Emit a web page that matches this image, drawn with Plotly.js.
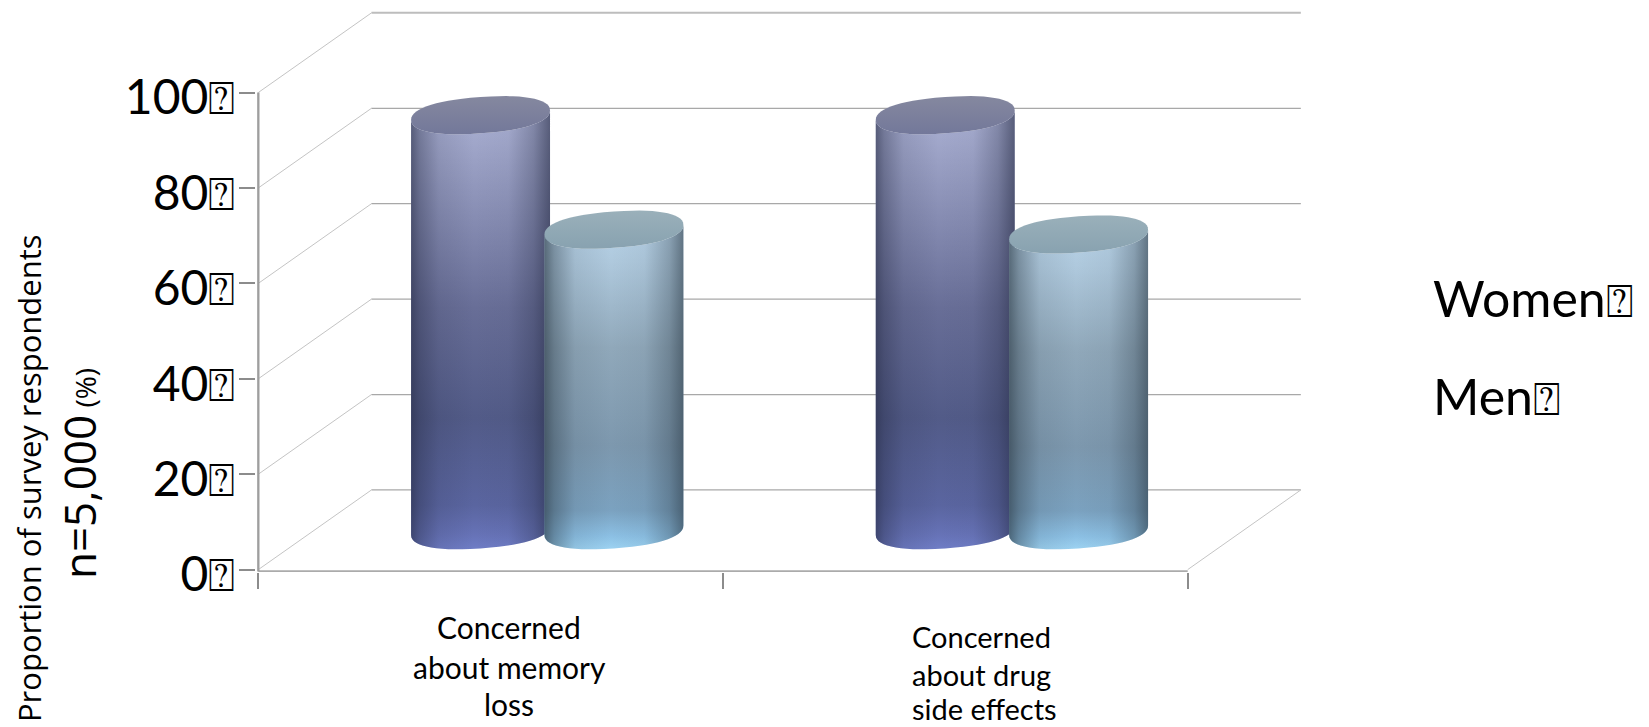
<!DOCTYPE html>
<html>
<head>
<meta charset="utf-8">
<script src="https://cdn.plot.ly/plotly-3.0.1.min.js"></script>
<style>html,body{margin:0;padding:0;background:#fff}#chart{width:1649px;height:727px}</style>
</head>
<body>
<div id="chart"></div>
<script>
// Survey results
const seriesNames = ['Women', 'Men'];
const womenValues = [87, 87];
const menValues = [63, 62];
const yTicks = [0, 20, 40, 60, 80, 100];
const yTickNumbers = ['0', '20', '40', '60', '80', '100'];
const categoryLines = [
  ['Concerned', 'about memory', 'loss'],
  ['Concerned', 'about drug', 'side effects']
];
const boxMark = '⍰';

// Oblique projection of the chart box, in axis units
const depthX = 0.2435, depthY = 16.7;
const left = -0.5, right = 1.5;
const midDepth = 0.5;
const radius = 0.1495, capHalf = 3.8, capTilt = 1.0;
const groupOffset = 0.1435;

const womenBody = [[0,'#6f7dc6'],[0.035,'#6672b6'],[0.1,'#5a65a0'],[0.3,'#525b88'],[0.55,'#686e97'],[0.82,'#9096bb'],[0.96,'#a5abce'],[1,'#a5abce']];
const menBody = [[0,'#9dd3f2'],[0.04,'#8cc0e4'],[0.12,'#7ba2c0'],[0.32,'#7d98ae'],[0.62,'#90a8ba'],[0.88,'#aec8dc'],[1,'#b8d3e8']];
const womenEdge = [[0,'rgba(35,40,65,0.6)'],[0.06,'rgba(35,40,65,0.38)'],[0.2,'rgba(35,40,65,0.12)'],[0.45,'rgba(35,40,65,0)'],[0.7,'rgba(35,40,65,0.03)'],[0.88,'rgba(35,40,65,0.28)'],[1,'rgba(35,40,65,0.6)']];
const menEdge = [[0,'rgba(45,60,72,0.68)'],[0.07,'rgba(45,60,72,0.42)'],[0.22,'rgba(45,60,72,0.1)'],[0.48,'rgba(45,60,72,0)'],[0.72,'rgba(45,60,72,0.05)'],[0.9,'rgba(45,60,72,0.32)'],[1,'rgba(45,60,72,0.62)']];
const womenCap = [[0,'#73789a'],[1,'#85889f']];
const menCap = [[0,'#88a2b0'],[1,'#9ab0ba']];

const traces = [];

function line(x, y, color, width) {
  traces.push({type:'scatter', mode:'lines', x, y, line:{color, width}, hoverinfo:'skip', showlegend:false, cliponaxis:false});
}

// Back wall gridlines and left wall diagonals
yTicks.forEach(v => {
  line([left, left + depthX], [v, v + depthY], '#c4c4c4', 1);
  line([left + depthX, right + depthX], [v + depthY, v + depthY], v === 100 ? '#bdbdbd' : '#a8a8a8', v === 100 ? 2 : 1.2);
});
// Floor edge on the right and the front floor line
line([right, right + depthX], [0, depthY], '#c4c4c4', 1);
line([left, right], [-0.4, -0.4], '#ababab', 2.5);

// Front vertical axis, stopping at the top tick
const axisShapes = [{type:'rect', layer:'above', xref:'x', yref:'y', x0:left - 0.0025, x1:left + 0.0025, y0:-0.4, y1:100, fillcolor:'#9e9e9e', line:{width:0}}];

// Slightly squared ellipse, so the cylinder ends read blunt at the sides
function ellipsePoint(cx, cy, deg) {
  const a = deg * Math.PI / 180;
  const c = Math.cos(a), s = Math.sin(a);
  const sc = Math.sign(c) * Math.pow(Math.abs(c), 0.85);
  const ss = Math.sign(s) * Math.pow(Math.abs(s), 0.9);
  return [cx + radius * sc, cy + capHalf * ss + capTilt * sc];
}

function cylinder(name, cat, offset, value, body, edge, cap) {
  const cx = cat + offset + midDepth * depthX;
  const base = midDepth * 16.5;
  const top = base + value;
  const bx = [], by = [], tx = [], ty = [];
  // Lower arc of the base, then lower arc of the top going back
  for (let d = 180; d <= 360; d += 6) { const p = ellipsePoint(cx, base, d); bx.push(p[0]); by.push(p[1]); }
  for (let d = 360; d >= 180; d -= 6) { const p = ellipsePoint(cx, top, d); bx.push(p[0]); by.push(p[1]); }
  bx.push(bx[0]); by.push(by[0]);
  for (let d = 0; d <= 360; d += 6) { const p = ellipsePoint(cx, top, d); tx.push(p[0]); ty.push(p[1]); }
  const shared = {type:'scatter', mode:'none', fill:'toself', name, showlegend:false, hoverinfo:'skip'};
  traces.push({...shared, x:bx, y:by, fillgradient:{type:'vertical', colorscale:body}});
  traces.push({...shared, x:bx, y:by, fillgradient:{type:'horizontal', colorscale:edge}});
  traces.push({...shared, x:tx, y:ty, fillgradient:{type:'vertical', colorscale:cap}});
}

womenValues.forEach((v, i) => {
  cylinder(seriesNames[0], i, -groupOffset, v, womenBody, womenEdge, womenCap);
  cylinder(seriesNames[1], i, groupOffset, menValues[i], menBody, menEdge, menCap);
});

const textFont = 'Lato, Carlito, sans-serif';
const plotLeft = 255.7, plotWidth = 1046.3, plotBottom = 572.4, plotHeight = 562.4;
const annotations = [];
function label(text, xPx, yPx, size, opts) {
  annotations.push(Object.assign({
    text, xref:'paper', yref:'paper', showarrow:false,
    x:(xPx - plotLeft) / plotWidth, y:(plotBottom - yPx) / plotHeight,
    xanchor:'center', yanchor:'middle',
    font:{family:textFont, size, color:'#000'}
  }, opts || {}));
}
const boxed = (t, size) => t + '<span style="font-size:' + size + 'px">' + boxMark + '</span>';

// Category labels, one line at a time
const catCentres = [[509, 509, 509], [981, 981, 984]];
const catRows = [[627, 667, 704], [637, 675, 709]];
const catSizes = [30, 29];
categoryLines.forEach((rows, c) => rows.forEach((t, r) => label(t, catCentres[c][r], catRows[c][r], catSizes[c])));

// Vertical axis captions
label('Proportion of survey respondents', 28, 478, 32, {textangle:-90, font:{family:'"Open Sans", sans-serif', size:31, color:'#000'}});
label('n=5,000<span style="font-size:28px"> (%)</span>', 78, 474, 44, {textangle:-90, font:{family:'"Open Sans", sans-serif', size:44, color:'#000'}});

// Series names
const legendX = (1431 - plotLeft) / plotWidth;
label(boxed(seriesNames[0], 46), 1431, 298, 50, {xanchor:'left', x:legendX});
label(boxed(seriesNames[1], 46), 1431, 396, 50, {xanchor:'left', x:legendX});

Plotly.newPlot('chart', traces, {
  width:1649, height:727,
  margin:{l:plotLeft, r:347, t:10, b:154.6, pad:0},
  paper_bgcolor:'#fff', plot_bgcolor:'#fff',
  showlegend:false,
  xaxis:{type:'linear', range:[-0.505, 1.746], showgrid:false, zeroline:false, showline:false,
    tickmode:'array', tickvals:[-0.5, 0.5, 1.5], ticktext:['', '', ''], ticks:'outside', ticklen:16, tickwidth:2, tickcolor:'#8c8c8c'},
  yaxis:{range:[-0.5, 117.3], showgrid:false, zeroline:false, showline:false,
    tickmode:'array', tickvals:yTicks, ticktext:yTickNumbers.map(t => boxed(t, 45)), ticks:'outside', ticklen:16, tickwidth:2, tickcolor:'#8c8c8c',
    tickfont:{family:textFont, size:48, color:'#000'}, ticklabelstandoff:-6, ticklabelshift:5},
  shapes:axisShapes,
  annotations
}, {staticPlot:true, displayModeBar:false});
</script>
</body>
</html>
